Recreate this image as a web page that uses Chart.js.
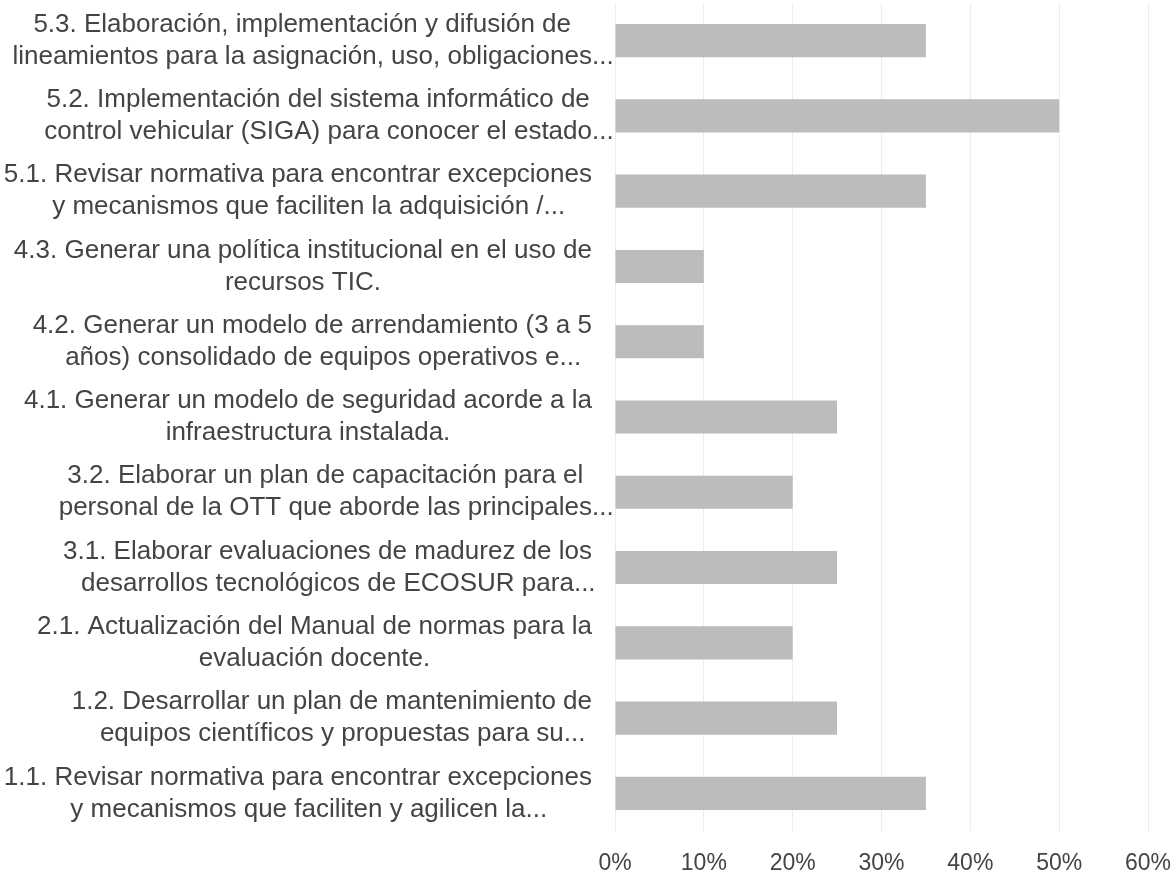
<!DOCTYPE html>
<html>
<head>
<meta charset="utf-8">
<script src="https://cdn.jsdelivr.net/npm/chart.js@4.4.1/dist/chart.umd.min.js"></script>
<style>
  html, body { margin: 0; padding: 0; background: #ffffff; }
  #wrap { width: 1175px; height: 873px; }
</style>
</head>
<body>
<div id="wrap"><canvas id="actionsChart"></canvas></div>
<script>
// Category labels, top to bottom (each one wrapped on two lines)
const actionLabels = [
    ['5.3. Elaboración, implementación y difusión de', 'lineamientos para la asignación, uso, obligaciones...'],
    ['5.2. Implementación del sistema informático de', 'control vehicular (SIGA) para conocer el estado...'],
    ['5.1. Revisar normativa para encontrar excepciones', 'y mecanismos que faciliten la adquisición /...'],
    ['4.3. Generar una política institucional en el uso de', 'recursos TIC.'],
    ['4.2. Generar un modelo de arrendamiento (3 a 5', 'años) consolidado de equipos operativos e...'],
    ['4.1. Generar un modelo de seguridad acorde a la', 'infraestructura instalada.'],
    ['3.2. Elaborar un plan de capacitación para el', 'personal de la OTT que aborde las principales...'],
    ['3.1. Elaborar evaluaciones de madurez de los', 'desarrollos tecnológicos de ECOSUR para...'],
    ['2.1. Actualización del Manual de normas para la', 'evaluación docente.'],
    ['1.2. Desarrollar un plan de mantenimiento de', 'equipos científicos y propuestas para su...'],
    ['1.1. Revisar normativa para encontrar excepciones', 'y mecanismos que faciliten y agilicen la...']
];

// Percent of answers per action
const actionValues = [35, 50, 35, 10, 10, 25, 20, 25, 20, 25, 35];

// x axis
const axisMin = 0;
const axisMax = 60;
const axisStep = 10;

const labelFont = '26px "Liberation Sans", Arial, sans-serif';
const textColor = '#444444';

// Draws the wrapped labels: lines centred on each other, block set against the bars,
// a trailing "..." is left hanging outside the block
const wrappedLabels = {
    id: 'wrappedLabels',
    afterDraw(chart) {
        const ctx = chart.ctx;
        const yScale = chart.scales.y;
        const rightEdge = yScale.right - 23;
        const lineHeight = 32;
        ctx.save();
        ctx.font = labelFont;
        ctx.fillStyle = textColor;
        ctx.textBaseline = 'middle';
        ctx.textAlign = 'left';
        actionLabels.forEach((lines, i) => {
            const y = yScale.getPixelForTick(i);
            const cores = lines.map(l => l.endsWith('...') ? l.slice(0, -3) : l);
            const widths = cores.map(c => ctx.measureText(c).width);
            const blockWidth = Math.max(...widths);
            const center = rightEdge - blockWidth / 2;
            lines.forEach((line, j) => {
                const ly = y + (j - (lines.length - 1) / 2) * lineHeight;
                ctx.fillText(line, center - widths[j] / 2, ly);
            });
        });
        ctx.restore();
    }
};

const ctx = document.getElementById('actionsChart').getContext('2d');
const chart = new Chart(ctx, {
    type: 'bar',
    data: {
        labels: actionLabels,
        datasets: [{
            data: actionValues,
            backgroundColor: '#bcbcbc',
            borderWidth: 0,
            barPercentage: 0.44,
            categoryPercentage: 1
        }]
    },
    options: {
        indexAxis: 'y',
        responsive: true,
        maintainAspectRatio: false,
        animation: false,
        layout: {
            padding: { top: 3, right: 27, bottom: 0, left: 0 }
        },
        plugins: {
            legend: { display: false },
            tooltip: { enabled: false }
        },
        scales: {
            x: {
                min: axisMin,
                max: axisMax,
                border: { display: false },
                grid: {
                    color: '#ececec',
                    drawTicks: false
                },
                ticks: {
                    stepSize: axisStep,
                    padding: 19,
                    color: textColor,
                    font: { family: '"Liberation Sans", Arial, sans-serif', size: 23 },
                    callback: value => value + '%'
                },
                afterFit: scale => {
                    scale.height = 42;
                    scale.paddingLeft = 0;
                    scale.paddingRight = 0;
                }
            },
            y: {
                border: { display: false },
                grid: { display: false },
                ticks: { display: false },
                afterFit: scale => { scale.width = 615; }
            }
        }
    },
    plugins: [wrappedLabels]
});
</script>
</body>
</html>
